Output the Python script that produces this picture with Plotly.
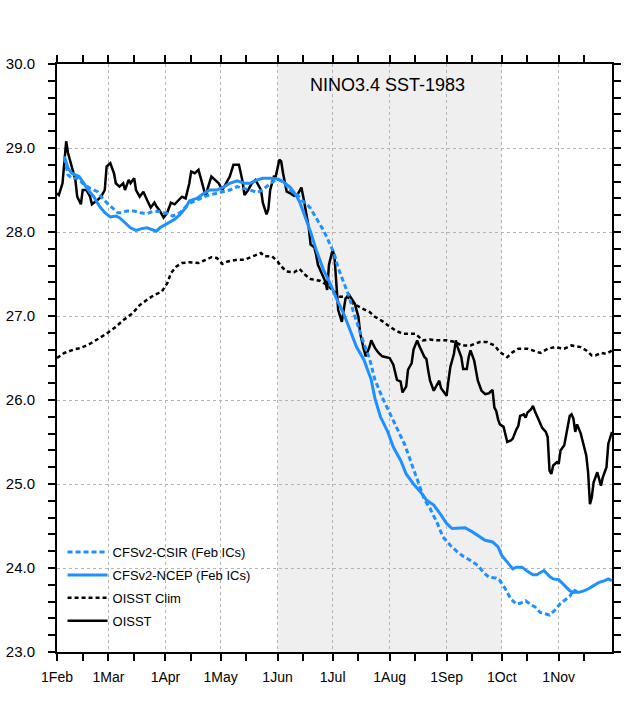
import pandas as pd
import plotly.graph_objects as go

# ---------------- data (day offsets from 1 Feb 1983, values in degC) ----------------
oisst_days = [0, 1, 3, 5, 6, 8, 10, 11, 13, 14, 16, 18, 19, 22, 24, 26, 27, 29, 31, 32,
              34, 36, 37, 39, 40, 42, 43, 45, 47, 49, 51, 53, 54, 56, 58, 60, 62, 64, 66, 68,
              70, 72, 73, 75, 77, 79, 81, 82, 84, 86, 88, 90, 92, 94, 96, 98, 99, 101, 102, 104,
              106, 108, 111, 112, 114, 115, 116, 118, 119, 121, 122, 123, 125, 127, 129, 131, 133, 134, 135, 137,
              138, 140, 141, 142, 144, 146, 147, 148, 150, 151, 152, 153, 155, 156, 157, 159, 161, 162, 164, 165,
              167, 168, 170, 171, 173, 175, 177, 180, 181, 183, 185, 187, 188, 190, 191, 193, 194, 196, 197, 200,
              201, 202, 203, 205, 207, 208, 209, 210, 212, 213, 214, 216, 217, 218, 220, 221, 223, 224, 225, 227,
              229, 231, 233, 235, 237, 238, 239, 240, 241, 243, 244, 245, 247, 248, 250, 251, 252, 254, 255, 256,
              258, 259, 260, 262, 264, 266, 267, 268, 269, 270, 272, 273, 274, 276, 278, 279, 280, 281, 282, 283,
              285, 287, 288, 289, 290, 291, 292, 294, 295, 296, 297, 299, 300, 302]
oisst_vals = [28.46, 28.44, 28.58, 29.08, 28.94, 28.78, 28.62, 28.42, 28.33, 28.50, 28.50, 28.42, 28.33, 28.38, 28.42, 28.50, 28.78, 28.82, 28.70, 28.58,
              28.54, 28.58, 28.50, 28.62, 28.58, 28.64, 28.50, 28.42, 28.48, 28.38, 28.29, 28.35, 28.31, 28.25, 28.17, 28.23, 28.35, 28.33, 28.38, 28.42,
              28.40, 28.58, 28.72, 28.70, 28.74, 28.58, 28.42, 28.52, 28.66, 28.62, 28.58, 28.50, 28.58, 28.66, 28.80, 28.80, 28.80, 28.60, 28.44, 28.50,
              28.58, 28.62, 28.50, 28.35, 28.21, 28.27, 28.50, 28.66, 28.66, 28.86, 28.84, 28.70, 28.48, 28.46, 28.43, 28.45, 28.53, 28.42, 28.30, 28.05,
              27.85, 27.82, 27.73, 27.61, 27.51, 27.41, 27.31, 27.61, 27.79, 27.70, 27.39, 27.07, 26.93, 27.09, 27.21, 27.25, 27.19, 27.15, 26.99, 26.79,
              26.60, 26.52, 26.63, 26.71, 26.62, 26.56, 26.52, 26.51, 26.50, 26.42, 26.24, 26.22, 26.09, 26.16, 26.36, 26.44, 26.60, 26.71, 26.65, 26.51,
              26.49, 26.35, 26.23, 26.11, 26.19, 26.23, 26.14, 26.11, 26.05, 26.23, 26.39, 26.55, 26.71, 26.63, 26.51, 26.37, 26.37, 26.51, 26.59, 26.47,
              26.23, 26.11, 26.07, 26.08, 26.12, 25.91, 25.87, 25.77, 25.71, 25.68, 25.60, 25.50, 25.52, 25.54, 25.65, 25.69, 25.81, 25.83, 25.79, 25.85,
              25.89, 25.93, 25.87, 25.77, 25.67, 25.62, 25.56, 25.16, 25.12, 25.22, 25.26, 25.24, 25.40, 25.46, 25.71, 25.81, 25.83, 25.78, 25.62, 25.71,
              25.60, 25.44, 25.34, 25.14, 24.76, 24.84, 25.02, 25.14, 25.04, 24.98, 25.08, 25.20, 25.48, 25.62]

clim_days = [0, 4, 9, 13, 18, 22, 27, 32, 36, 41, 45, 50, 53, 57, 60, 62, 65, 68, 72, 77,
             81, 84, 87, 90, 93, 98, 102, 107, 111, 113, 117, 120, 122, 125, 129, 132, 135, 138, 140, 143,
             147, 150, 154, 158, 161, 166, 170, 173, 177, 180, 184, 188, 191, 195, 199, 203, 207, 212, 217, 220,
             225, 230, 234, 238, 241, 245, 248, 251, 256, 259, 263, 267, 271, 276, 280, 285, 288, 291, 293, 296,
             299, 302]
clim_vals = [26.50, 26.56, 26.60, 26.62, 26.67, 26.72, 26.79, 26.87, 26.95, 27.03, 27.13, 27.21, 27.25, 27.29, 27.39, 27.51, 27.59, 27.63, 27.64, 27.63,
             27.67, 27.70, 27.69, 27.62, 27.65, 27.67, 27.67, 27.71, 27.75, 27.71, 27.71, 27.65, 27.59, 27.53, 27.52, 27.56, 27.49, 27.44, 27.43, 27.42,
             27.37, 27.31, 27.23, 27.23, 27.15, 27.09, 27.05, 26.99, 26.94, 26.89, 26.83, 26.79, 26.79, 26.79, 26.71, 26.72, 26.71, 26.71, 26.69, 26.65,
             26.65, 26.69, 26.69, 26.65, 26.57, 26.51, 26.57, 26.61, 26.61, 26.59, 26.56, 26.61, 26.63, 26.61, 26.65, 26.63, 26.59, 26.53, 26.53, 26.56,
             26.55, 26.59]

ncep_days = [4, 6, 8, 12, 14, 17, 20, 23, 26, 29, 32, 34, 37, 40, 43, 46, 49, 52, 54, 56,
             59, 62, 64, 67, 70, 72, 76, 80, 83, 87, 91, 94, 98, 102, 105, 109, 112, 116, 120, 123,
             127, 130, 132, 134, 138, 141, 145, 149, 152, 156, 160, 163, 167, 171, 173, 176, 180, 183, 187, 190,
             194, 198, 201, 205, 209, 212, 215, 219, 222, 226, 230, 233, 237, 240, 242, 245, 248, 250, 253, 256,
             259, 261, 265, 268, 270, 273, 276, 279, 281, 284, 287, 289, 292, 295, 298, 300, 302]
ncep_vals = [28.90, 28.76, 28.70, 28.66, 28.60, 28.50, 28.42, 28.31, 28.23, 28.18, 28.19, 28.17, 28.11, 28.05, 28.02, 28.04, 28.05, 28.03, 28.01, 28.05,
             28.09, 28.12, 28.15, 28.21, 28.29, 28.37, 28.40, 28.46, 28.50, 28.50, 28.54, 28.58, 28.61, 28.58, 28.58, 28.62, 28.64, 28.64, 28.63, 28.60,
             28.53, 28.44, 28.36, 28.24, 28.00, 27.79, 27.55, 27.37, 27.21, 27.03, 26.79, 26.63, 26.48, 26.24, 26.02, 25.80, 25.62, 25.44, 25.28, 25.12,
             25.00, 24.90, 24.81, 24.75, 24.63, 24.53, 24.47, 24.48, 24.48, 24.43, 24.37, 24.33, 24.31, 24.25, 24.15, 24.07, 23.99, 24.01, 24.01, 23.96,
             23.92, 23.92, 23.97, 23.90, 23.87, 23.86, 23.79, 23.73, 23.71, 23.71, 23.73, 23.75, 23.79, 23.83, 23.85, 23.87, 23.85]

csir_days = [4, 6, 8, 11, 14, 18, 22, 24, 27, 30, 33, 35, 38, 42, 45, 49, 53, 56, 60, 63,
             67, 70, 73, 76, 80, 83, 87, 91, 94, 98, 102, 105, 109, 112, 116, 120, 123, 127, 131, 133,
             136, 138, 142, 145, 148, 151, 153, 156, 159, 161, 164, 167, 170, 173, 177, 181, 185, 189, 192, 195,
             198, 200, 203, 207, 210, 214, 218, 221, 225, 229, 232, 235, 239, 241, 244, 247, 250, 252, 255, 258,
             260, 263, 268, 271, 274, 277, 279, 281, 283]
csir_vals = [28.88, 28.68, 28.64, 28.64, 28.58, 28.52, 28.48, 28.42, 28.35, 28.29, 28.23, 28.23, 28.25, 28.25, 28.23, 28.22, 28.25, 28.24, 28.22, 28.19,
             28.23, 28.30, 28.35, 28.38, 28.42, 28.44, 28.46, 28.48, 28.50, 28.54, 28.52, 28.50, 28.47, 28.50, 28.58, 28.63, 28.60, 28.50, 28.44, 28.38,
             28.33, 28.28, 28.13, 28.02, 27.88, 27.73, 27.57, 27.39, 27.23, 27.07, 26.87, 26.67, 26.50, 26.24, 26.03, 25.84, 25.66, 25.48, 25.30, 25.12,
             24.94, 24.81, 24.71, 24.53, 24.37, 24.27, 24.19, 24.14, 24.09, 24.03, 23.95, 23.89, 23.88, 23.85, 23.75, 23.63, 23.57, 23.58, 23.61, 23.56,
             23.54, 23.47, 23.44, 23.50, 23.58, 23.63, 23.66, 23.74, 23.72]

month_labels = ["1Feb", "1Mar", "1Apr", "1May", "1Jun", "1Jul", "1Aug", "1Sep", "1Oct", "1Nov"]
shade_start, shade_end = "1983-06-01", "1983-10-01"
title_text = "NINO3.4 SST-1983"

# ---------------- build ----------------
base = pd.Timestamp("1983-02-01")


def to_dates(days):
    return base + pd.to_timedelta(days, unit="D")


month_starts = pd.date_range("1983-02-01", periods=len(month_labels), freq="MS")
mid_months = month_starts + pd.Timedelta(days=14)

BLUE = "#1E90FF"
FONT = "Liberation Sans, Arial, sans-serif"

fig = go.Figure()
fig.add_trace(go.Scatter(x=to_dates(oisst_days), y=oisst_vals, mode="lines", name="OISST",
                         line=dict(color="black", width=2.5), legendrank=4, legendgroup="d"))
fig.add_trace(go.Scatter(x=to_dates(clim_days), y=clim_vals, mode="lines", name="OISST Clim",
                         line=dict(color="black", width=2.5, dash="4px,3px"), legendrank=3, legendgroup="c"))
fig.add_trace(go.Scatter(x=to_dates(csir_days), y=csir_vals, mode="lines", name="CFSv2-CSIR (Feb ICs)",
                         line=dict(color=BLUE, width=3, dash="5px,3px"), legendrank=1, legendgroup="a"))
fig.add_trace(go.Scatter(x=to_dates(ncep_days), y=ncep_vals, mode="lines", name="CFSv2-NCEP (Feb ICs)",
                         line=dict(color=BLUE, width=3), legendrank=2, legendgroup="b"))

fig.add_shape(type="rect", xref="x", yref="paper", x0=shade_start, x1=shade_end, y0=0, y1=1,
              fillcolor="#efefef", line=dict(width=0), layer="below")

fig.add_annotation(text=title_text, xref="paper", yref="paper", x=0.595, y=0.964,
                   xanchor="center", yanchor="middle",
                   showarrow=False, font=dict(family=FONT, size=18, color="black"))

grid = dict(showgrid=True, gridcolor="#b4b4b4", gridwidth=1, griddash="3px,3px")

fig.update_xaxes(
    range=["1983-02-01", "1983-11-30"], tickmode="array", tickvals=month_starts, ticktext=month_labels,
    ticks="outside", ticklen=7, tickwidth=1.5, tickcolor="black",
    showline=True, linecolor="black", linewidth=2, mirror="ticks", automargin=False,
    tickfont=dict(family=FONT, size=14, color="black"), ticklabelstandoff=4,
    minor=dict(tickmode="array", tickvals=mid_months, ticks="outside", ticklen=7, tickwidth=1.5,
               tickcolor="black", showgrid=False),
    zeroline=False, **grid)
fig.update_yaxes(
    range=[23, 30], dtick=1, tick0=23, tickformat=".1f",
    ticks="outside", ticklen=7, tickwidth=1.5, tickcolor="black",
    showline=True, linecolor="black", linewidth=2, mirror="ticks", automargin=False,
    tickfont=dict(family=FONT, size=15, color="black"), ticklabelstandoff=10,
    minor=dict(dtick=0.2, ticks="outside", ticklen=7, tickwidth=1.5, tickcolor="black", showgrid=False),
    zeroline=False, **grid)

fig.update_layout(
    width=640, height=702,
    margin=dict(l=57, r=28, t=64, b=50),
    paper_bgcolor="white", plot_bgcolor="white",
    font=dict(family=FONT, color="black"),
    legend=dict(x=0.01, y=0.027, xanchor="left", yanchor="bottom", bgcolor="rgba(0,0,0,0)",
                font=dict(family=FONT, size=13, color="black"), tracegroupgap=3, itemwidth=40,
                traceorder="grouped"),
)

# remove the default page margin so the figure fills the 640x702 window exactly
fig.write_html("out.html", config={"displayModeBar": False},
               post_script="document.body.style.margin='0';")
